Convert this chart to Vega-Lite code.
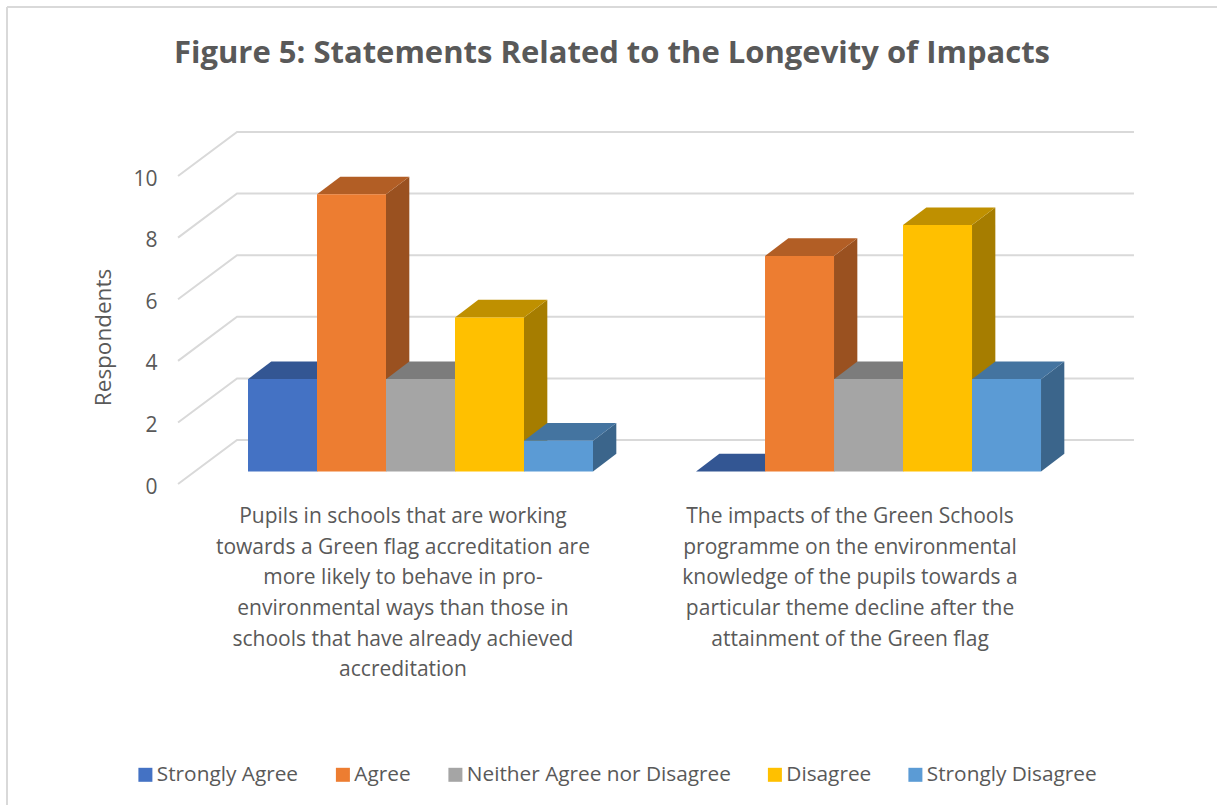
{"$schema":"https://vega.github.io/schema/vega-lite/v6.json","width":1210,"height":798,"autosize":"none","padding":{"left":7,"top":7,"right":0,"bottom":0},"background":"white","config":{"view":{"stroke":null},"font":"Open Sans"},"title":{"text":"Figure 5: Statements Related to the Longevity of Impacts","font":"Open Sans","fontWeight":"bold","fontSize":31,"color":"#595959","anchor":"middle","offset":-64},"datasets":{"bars":[{"statement":"Pupils in schools that are working\ntowards a Green flag accreditation are\nmore likely to behave in pro-\nenvironmental ways than those in\nschools that have already achieved\naccreditation","response":"Strongly Agree","value":3},{"statement":"Pupils in schools that are working\ntowards a Green flag accreditation are\nmore likely to behave in pro-\nenvironmental ways than those in\nschools that have already achieved\naccreditation","response":"Agree","value":9},{"statement":"Pupils in schools that are working\ntowards a Green flag accreditation are\nmore likely to behave in pro-\nenvironmental ways than those in\nschools that have already achieved\naccreditation","response":"Neither Agree nor Disagree","value":3},{"statement":"Pupils in schools that are working\ntowards a Green flag accreditation are\nmore likely to behave in pro-\nenvironmental ways than those in\nschools that have already achieved\naccreditation","response":"Disagree","value":5},{"statement":"Pupils in schools that are working\ntowards a Green flag accreditation are\nmore likely to behave in pro-\nenvironmental ways than those in\nschools that have already achieved\naccreditation","response":"Strongly Disagree","value":1},{"statement":"The impacts of the Green Schools\nprogramme on the environmental\nknowledge of the pupils towards a\nparticular theme decline after the\nattainment of the Green flag","response":"Strongly Agree","value":0},{"statement":"The impacts of the Green Schools\nprogramme on the environmental\nknowledge of the pupils towards a\nparticular theme decline after the\nattainment of the Green flag","response":"Agree","value":7},{"statement":"The impacts of the Green Schools\nprogramme on the environmental\nknowledge of the pupils towards a\nparticular theme decline after the\nattainment of the Green flag","response":"Neither Agree nor Disagree","value":3},{"statement":"The impacts of the Green Schools\nprogramme on the environmental\nknowledge of the pupils towards a\nparticular theme decline after the\nattainment of the Green flag","response":"Disagree","value":8},{"statement":"The impacts of the Green Schools\nprogramme on the environmental\nknowledge of the pupils towards a\nparticular theme decline after the\nattainment of the Green flag","response":"Strongly Disagree","value":3}],"ticks":[{"tick":0},{"tick":2},{"tick":4},{"tick":6},{"tick":8},{"tick":10}]},"resolve":{"scale":{"color":"independent"}},"layer":[{"data":{"name":"ticks"},"transform":[{"calculate":"[0,1,2]","as":"k"},{"flatten":["k"]},{"calculate":"[-1.014,-0.159,12.84][datum.k]","as":"px"},{"calculate":"datum.tick+[0,1.43,1.43][datum.k]","as":"py"}],"mark":{"type":"line","color":"#d9d9d9","strokeWidth":2,"interpolate":"linear"},"encoding":{"x":{"field":"px","type":"quantitative","scale":{"domain":[-3.4928,14.0435],"nice":false,"zero":false},"axis":null},"y":{"field":"py","type":"quantitative","scale":{"domain":[-10.42,15.487],"nice":false,"zero":false},"axis":{"values":[0,2,4,6,8,10],"grid":false,"domain":false,"ticks":false,"offset":-150,"labelPadding":0,"labelOffset":3,"labelFont":"Open Sans","labelFontSize":21,"labelColor":"#595959","title":"Respondents","titleFont":"Open Sans","titleFontSize":22.5,"titleFontWeight":"normal","titleColor":"#595959","titleX":-54,"titleY":330,"titleBaseline":"middle","titleAngle":-90}},"detail":{"field":"tick","type":"nominal"}}},{"data":{"values":[{"edge":"left"}]},"mark":{"type":"rule","color":"#d9d9d9","strokeWidth":2},"encoding":{"x":{"datum":-3.4928,"type":"quantitative","scale":{"domain":[-3.4928,14.0435],"nice":false,"zero":false},"axis":null}}},{"data":{"values":[{"edge":"top"}]},"mark":{"type":"rule","color":"#d9d9d9","strokeWidth":2},"encoding":{"y":{"datum":15.487,"type":"quantitative","scale":{"domain":[-10.42,15.487],"nice":false,"zero":false}}}},{"data":{"name":"bars"},"transform":[{"calculate":"indexof(['Strongly Agree','Agree','Neither Agree nor Disagree','Disagree','Strongly Disagree'],datum.response)+(indexof(datum.statement,'Pupils')===0?0:6.493)","as":"left"},{"calculate":"datum.value+0.406","as":"top"},{"calculate":"[0,1]","as":"k"},{"flatten":["k"]},{"calculate":"datum.left+1+datum.k*0.338","as":"px"},{"calculate":"datum.top+datum.k*0.574","as":"py"},{"calculate":"0.406+datum.k*0.574","as":"py2"}],"mark":{"type":"area","orient":"vertical"},"encoding":{"x":{"field":"px","type":"quantitative","scale":{"domain":[-3.4928,14.0435],"nice":false,"zero":false},"axis":null},"y":{"field":"py","type":"quantitative","scale":{"domain":[-10.42,15.487],"nice":false,"zero":false}},"y2":{"field":"py2"},"detail":{"field":"statement","type":"nominal"},"color":{"field":"response","type":"nominal","legend":null,"scale":{"domain":["Strongly Agree","Agree","Neither Agree nor Disagree","Disagree","Strongly Disagree"],"range":["#2C4A80","#9A5120","#6B6B6B","#A67D00","#3B658B"]}}}},{"data":{"name":"bars"},"transform":[{"calculate":"indexof(['Strongly Agree','Agree','Neither Agree nor Disagree','Disagree','Strongly Disagree'],datum.response)+(indexof(datum.statement,'Pupils')===0?0:6.493)","as":"left"},{"calculate":"datum.value+0.406","as":"top"},{"calculate":"[0,1,2,3]","as":"k"},{"flatten":["k"]},{"calculate":"datum.left+[0,0.338,1,1.338][datum.k]","as":"px"},{"calculate":"datum.top+[0,0.574,0.574,0.574][datum.k]","as":"py"},{"calculate":"datum.top+[0,0,0,0.574][datum.k]","as":"py2"}],"mark":{"type":"area","orient":"vertical"},"encoding":{"x":{"field":"px","type":"quantitative","scale":{"domain":[-3.4928,14.0435],"nice":false,"zero":false},"axis":null},"y":{"field":"py","type":"quantitative","scale":{"domain":[-10.42,15.487],"nice":false,"zero":false}},"y2":{"field":"py2"},"detail":{"field":"statement","type":"nominal"},"color":{"field":"response","type":"nominal","legend":null,"scale":{"domain":["Strongly Agree","Agree","Neither Agree nor Disagree","Disagree","Strongly Disagree"],"range":["#335693","#B25E25","#7C7C7C","#BF9000","#4474A0"]}}}},{"data":{"name":"bars"},"transform":[{"calculate":"indexof(['Strongly Agree','Agree','Neither Agree nor Disagree','Disagree','Strongly Disagree'],datum.response)+(indexof(datum.statement,'Pupils')===0?0:6.493)","as":"left"},{"calculate":"datum.left+1","as":"right"},{"calculate":"datum.value+0.406","as":"top"},{"calculate":"0.406","as":"base"}],"mark":{"type":"rect"},"encoding":{"x":{"field":"left","type":"quantitative","scale":{"domain":[-3.4928,14.0435],"nice":false,"zero":false},"axis":null},"x2":{"field":"right"},"y":{"field":"top","type":"quantitative","scale":{"domain":[-10.42,15.487],"nice":false,"zero":false}},"y2":{"field":"base"},"color":{"field":"response","type":"nominal","scale":{"domain":["Strongly Agree","Agree","Neither Agree nor Disagree","Disagree","Strongly Disagree"],"range":["#4472C4","#ED7D31","#A5A5A5","#FFC000","#5B9BD5"]},"legend":{"orient":"none","legendX":128,"legendY":757,"direction":"horizontal","columns":5,"title":null,"symbolType":"square","symbolSize":196,"symbolStrokeWidth":0,"labelFont":"Open Sans","labelFontSize":20.8,"labelColor":"#595959","labelOffset":1,"columnPadding":33.5,"labelLimit":400}}}},{"data":{"name":"bars"},"transform":[{"filter":"datum.response==='Agree'"},{"calculate":"indexof(datum.statement,'Pupils')===0?2.246:8.725","as":"labelX"},{"calculate":"-0.72","as":"labelY"}],"mark":{"type":"text","lineBreak":"\n","lineHeight":30.6,"baseline":"top","align":"center","font":"Open Sans","fontSize":21,"color":"#595959"},"encoding":{"x":{"field":"labelX","type":"quantitative","scale":{"domain":[-3.4928,14.0435],"nice":false,"zero":false},"axis":null},"y":{"field":"labelY","type":"quantitative","scale":{"domain":[-10.42,15.487],"nice":false,"zero":false}},"text":{"field":"statement"}}}]}
